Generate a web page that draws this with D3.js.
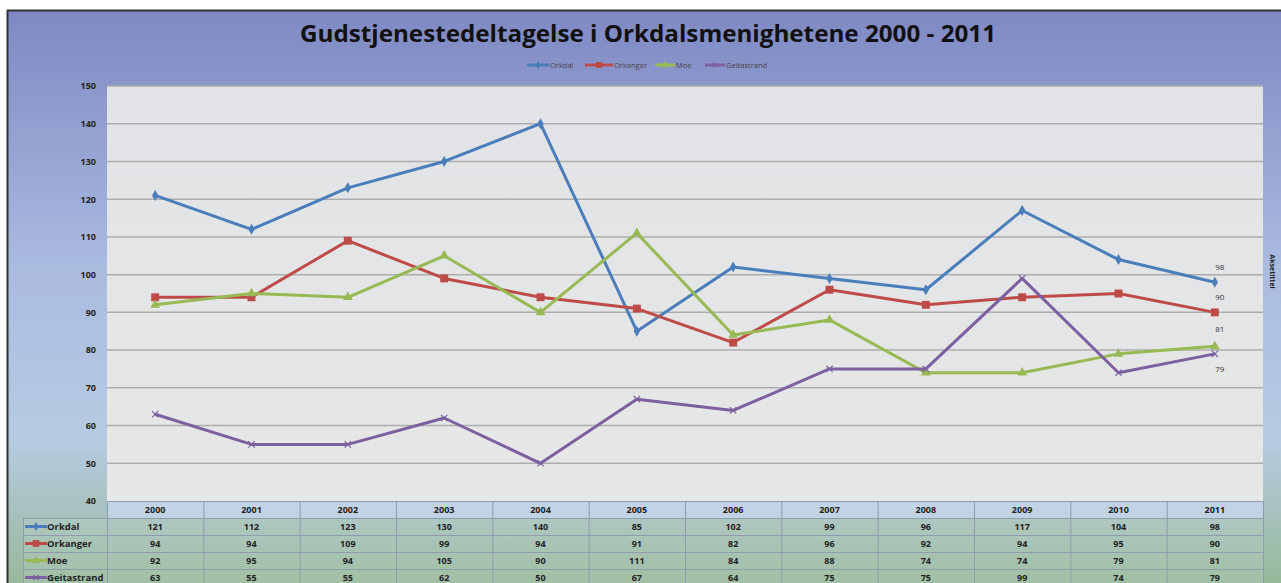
<!DOCTYPE html>
<html>
<head>
<meta charset="utf-8">
<script src="https://cdn.jsdelivr.net/npm/d3@7"></script>
<style>
  html, body { margin: 0; padding: 0; background: #fff; }
  svg { display: block; }
  text { font-family: "Open Sans", "DejaVu Sans", sans-serif; }
</style>
</head>
<body>
<div id="chart"></div>
<script>
// data
const years = ["2000","2001","2002","2003","2004","2005","2006","2007","2008","2009","2010","2011"];
const seriesNames = ["Orkdal","Orkanger","Moe","Geitastrand"];
const orkdal = [121,112,123,130,140,85,102,99,96,117,104,98];
const orkanger = [94,94,109,99,94,91,82,96,92,94,95,90];
const moe = [92,95,94,105,90,111,84,88,74,74,79,81];
const geitastrand = [63,55,55,62,50,67,64,75,75,99,74,79];
const yTicks = [40,50,60,70,80,90,100,110,120,130,140,150];
const titleText = "Gudstjenestedeltagelse i Orkdalsmenighetene 2000 - 2011";
const axisTitle = "Aksetittel";

const colors = ["#4a7ebb","#be4b48","#98b954","#7d60a0"];
const markers = ["diamond","square","triangle","cross"];
const dataSet = [orkdal, orkanger, moe, geitastrand];

const w = 1281, h = 583;
const plot = {left: 107, right: 1263, top: 86, bottom: 501};
const rowH = 17;

const svg = d3.select("#chart").append("svg")
  .attr("width", w).attr("height", h);

// background gradient
const defs = svg.append("defs");
const bg = defs.append("linearGradient").attr("id","bg").attr("x1",0).attr("y1",0).attr("x2",0).attr("y2",1);
bg.append("stop").attr("offset","0%").attr("stop-color","#7f88c3");
bg.append("stop").attr("offset","45%").attr("stop-color","#aabbe0");
bg.append("stop").attr("offset","75%").attr("stop-color","#b6cbe2");
bg.append("stop").attr("offset","100%").attr("stop-color","#97b99a");

const pg = defs.append("linearGradient").attr("id","pbg").attr("x1",0).attr("y1",0).attr("x2",0).attr("y2",1);
pg.append("stop").attr("offset","0%").attr("stop-color","#e2e3e6");
pg.append("stop").attr("offset","100%").attr("stop-color","#e6e7e6");

svg.append("rect").attr("x",7).attr("y",10).attr("width",w-7).attr("height",h-10)
  .attr("fill","url(#bg)");
svg.append("line").attr("x1",7).attr("x2",w).attr("y1",10.5).attr("y2",10.5).attr("stroke","#333").attr("stroke-width",2);
svg.append("line").attr("x1",7.5).attr("x2",7.5).attr("y1",10).attr("y2",h).attr("stroke","#333").attr("stroke-width",2);

// title
svg.append("text")
  .attr("x", 648).attr("y", 42)
  .attr("text-anchor","middle")
  .attr("font-size","24px").attr("font-weight","bold").attr("fill","#111")
  .attr("textLength", 696).attr("lengthAdjust","spacingAndGlyphs")
  .text(titleText);

// scales
const xScale = d3.scaleBand().domain(years).range([plot.left, plot.right]);
const yScale = d3.scaleLinear().domain([40,150]).range([plot.bottom, plot.top]);

// plot area
svg.append("rect").attr("x",plot.left).attr("y",plot.top)
  .attr("width",plot.right-plot.left).attr("height",plot.bottom-plot.top)
  .attr("fill","url(#pbg)");

// gridlines
svg.append("g").selectAll("line").data(yTicks.filter(d => d > 40))
  .enter().append("line")
  .attr("x1",plot.left).attr("x2",plot.right)
  .attr("y1",d => yScale(d)).attr("y2",d => yScale(d))
  .attr("stroke","#adadad").attr("stroke-width",1.5);

// y axis
const yAxis = d3.axisLeft(yScale).tickValues(yTicks).tickSize(0).tickPadding(11);
const yG = svg.append("g").attr("transform",`translate(${plot.left},0)`).call(yAxis);
yG.select(".domain").remove();
yG.selectAll("text").attr("font-size","9px").attr("font-weight","bold").attr("fill","#222")
  .attr("font-family","'Open Sans', sans-serif");

// right axis title
svg.append("text")
  .attr("transform",`translate(1270,${(plot.top+plot.bottom)/2 - 22}) rotate(90)`)
  .attr("text-anchor","middle").attr("font-size","7px").attr("font-weight","bold").attr("fill","#222")
  .text(axisTitle);

// marker drawing
const drawMarker = (g, type, color, size) => {
  if (type === "diamond") {
    g.append("path").attr("d", d3.symbol(d3.symbolDiamond, size*5)()).attr("fill", color);
  } else if (type === "square") {
    g.append("path").attr("d", d3.symbol(d3.symbolSquare, size*9)()).attr("fill", color);
  } else if (type === "triangle") {
    g.append("path").attr("d", d3.symbol(d3.symbolTriangle, size*6)()).attr("fill", color);
  } else {
    g.append("path").attr("d", d3.symbol(d3.symbolTimes, size*4)()).attr("fill","none")
      .attr("stroke", color).attr("stroke-width",1.2);
  }
};

// lines
const line = d3.line().x((d,i) => xScale(years[i]) + xScale.bandwidth()/2).y(d => yScale(d));
dataSet.forEach((vals, s) => {
  svg.append("path").datum(vals).attr("d", line)
    .attr("fill","none").attr("stroke", colors[s]).attr("stroke-width",3)
    .attr("stroke-linejoin","round");
  vals.forEach((v, i) => {
    const g = svg.append("g")
      .attr("transform",`translate(${xScale(years[i]) + xScale.bandwidth()/2},${yScale(v)})`);
    drawMarker(g, markers[s], colors[s], 7);
  });
});

// data labels for last year
const lastIdx = years.length - 1;
const labelOffsets = [-12, -12, -14, 18];
dataSet.forEach((vals, s) => {
  svg.append("text")
    .attr("x", xScale(years[lastIdx]) + xScale.bandwidth()/2 + 5)
    .attr("y", yScale(vals[lastIdx]) + labelOffsets[s])
    .attr("text-anchor","middle").attr("font-size","8px").attr("fill","#333")
    .text(vals[lastIdx]);
});

// legend
const legendItems = [
  {x: 527, len: 22, tx: 550},
  {x: 585, len: 28, tx: 614},
  {x: 655, len: 20, tx: 676},
  {x: 705, len: 20, tx: 726}
];
seriesNames.forEach((name, s) => {
  const it = legendItems[s];
  svg.append("line").attr("x1",it.x).attr("x2",it.x+it.len).attr("y1",65).attr("y2",65)
    .attr("stroke",colors[s]).attr("stroke-width",3);
  const g = svg.append("g").attr("transform",`translate(${it.x+it.len/2},65)`);
  drawMarker(g, markers[s], colors[s], 4);
  svg.append("text").attr("x",it.tx).attr("y",68).attr("font-size","7.5px").attr("fill","#444")
    .text(name);
});

// data table
const tableLeft = 23;
const table = svg.append("g");
// header row
table.append("rect").attr("x",plot.left).attr("y",plot.bottom).attr("width",plot.right-plot.left).attr("height",rowH)
  .attr("fill","#cad8f0").attr("fill-opacity",0.75);
// data rows
seriesNames.forEach((name, s) => {
  const y0 = plot.bottom + rowH*(s+1);
  table.append("rect").attr("x",tableLeft).attr("y",y0).attr("width",plot.right-tableLeft).attr("height",rowH)
    .attr("fill","#ffffff").attr("fill-opacity",0.1);
});
// horizontal borders
d3.range(0,6).forEach(r => {
  const y = plot.bottom + rowH*r;
  table.append("line").attr("x1", r === 0 ? plot.left : tableLeft).attr("x2",plot.right)
    .attr("y1",y+0.5).attr("y2",y+0.5).attr("stroke","#8f9cae").attr("stroke-width",1);
});
// vertical borders
years.concat(["end"]).forEach((yr, i) => {
  const x = i < years.length ? xScale(yr) : plot.right;
  table.append("line").attr("x1",x+0.5).attr("x2",x+0.5).attr("y1",plot.bottom).attr("y2",h)
    .attr("stroke","#8f9cae").attr("stroke-width",1);
});
table.append("line").attr("x1",tableLeft+0.5).attr("x2",tableLeft+0.5)
  .attr("y1",plot.bottom+rowH).attr("y2",h).attr("stroke","#8f9cae");

// header text
years.forEach(yr => {
  table.append("text").attr("x", xScale(yr)+xScale.bandwidth()/2).attr("y", plot.bottom+12)
    .attr("text-anchor","middle").attr("font-size","9px").attr("font-weight","bold").attr("fill","#222")
    .text(yr);
});
// row labels and values
seriesNames.forEach((name, s) => {
  const yc = plot.bottom + rowH*(s+1) + rowH/2;
  table.append("line").attr("x1",25).attr("x2",47).attr("y1",yc).attr("y2",yc)
    .attr("stroke",colors[s]).attr("stroke-width",3);
  const g = table.append("g").attr("transform",`translate(36,${yc})`);
  drawMarker(g, markers[s], colors[s], 5);
  table.append("text").attr("x",47).attr("y",yc+3.5).attr("font-size","9.5px").attr("font-weight","bold")
    .attr("fill","#222").text(name);
  dataSet[s].forEach((v, i) => {
    table.append("text").attr("x", xScale(years[i])+xScale.bandwidth()/2).attr("y", yc+3.5)
      .attr("text-anchor","middle").attr("font-size","9px").attr("font-weight","bold").attr("fill","#222")
      .text(v);
  });
});
</script>
</body>
</html>
